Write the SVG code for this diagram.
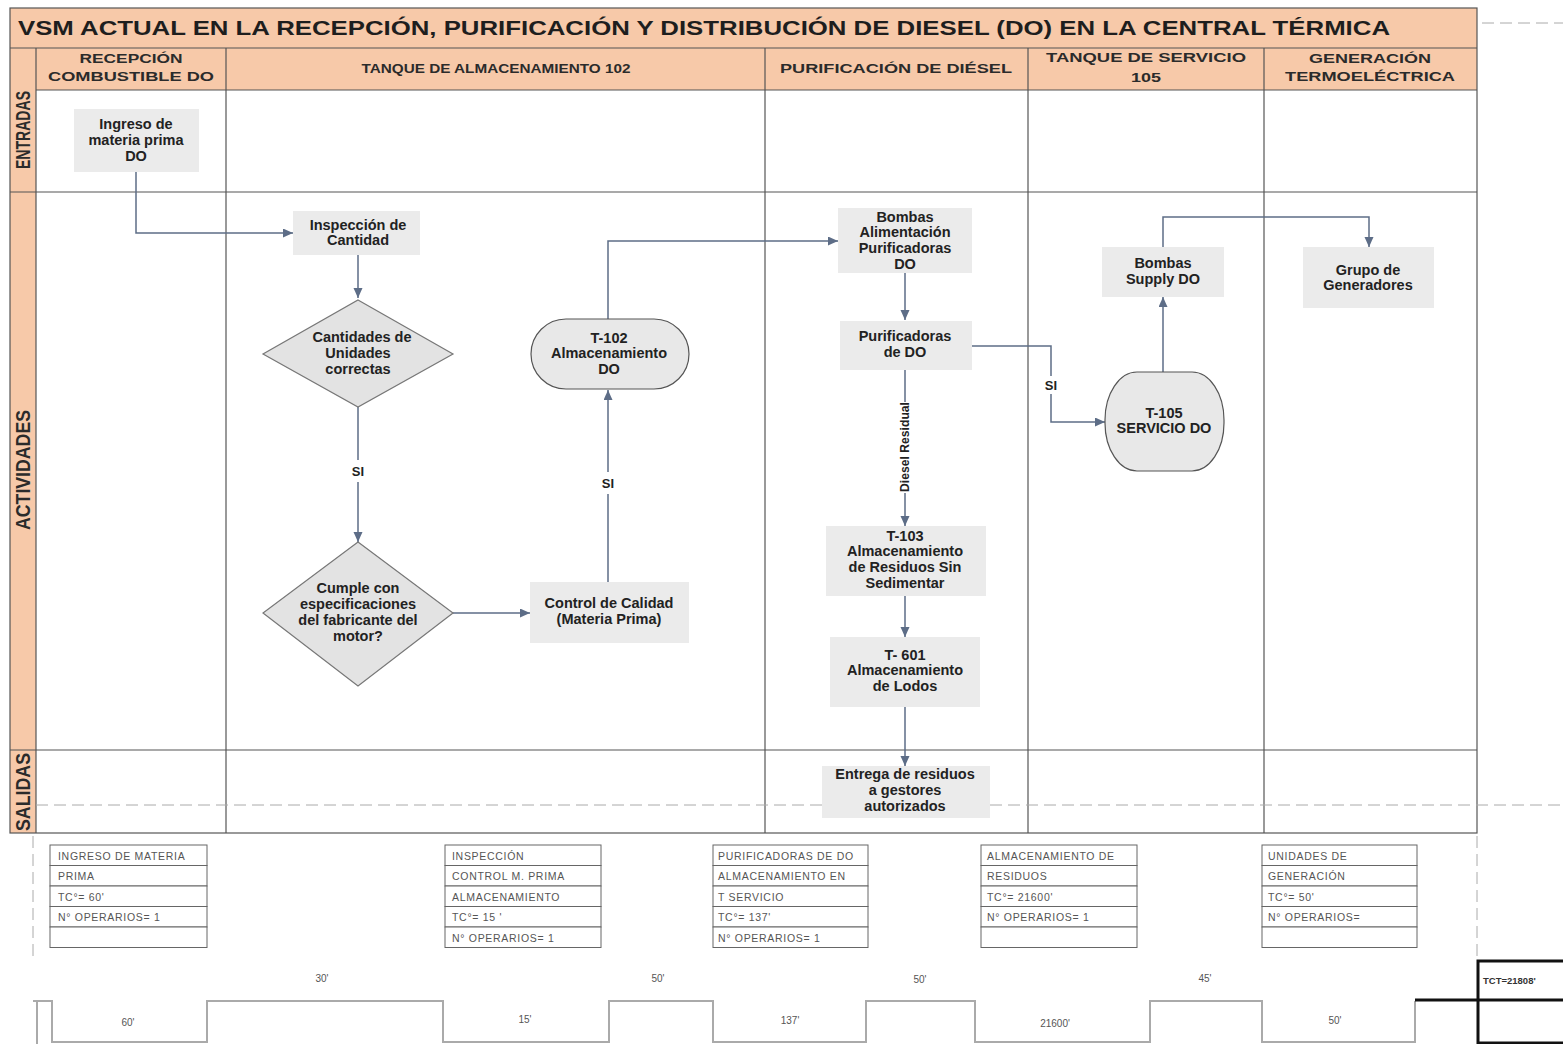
<svg xmlns="http://www.w3.org/2000/svg" width="1563" height="1044" viewBox="0 0 1563 1044">
  <style>
    .band { fill: #f7c9a9; }
    .grid { stroke: #555; stroke-width: 1.2; fill: none; }
    .hdr { font-family: "Liberation Sans", Arial, sans-serif; font-weight: bold; font-size: 13.5px; fill: #2b2b2b; text-anchor: middle; }
    .title { font-family: "Liberation Sans", Arial, sans-serif; font-weight: bold; font-size: 21px; fill: #1e1e1e; }
    .lane { font-family: "Liberation Sans", Arial, sans-serif; font-weight: bold; font-size: 20px; fill: #2b2b2b; text-anchor: middle; }
    .box { fill: #ebebeb; }
    .tank { fill: #e8e8e8; stroke: #555; stroke-width: 1.2; }
    .lbl { font-family: "Liberation Sans", Arial, sans-serif; font-weight: bold; font-size: 14.5px; fill: #222; text-anchor: middle; }
    .edge { stroke: #5d6d87; stroke-width: 1.5; fill: none; }
    .elbl { font-family: "Liberation Sans", Arial, sans-serif; font-weight: bold; font-size: 13px; fill: #222; text-anchor: middle; }
    .cell { fill: #fff; stroke: #666; stroke-width: 1; }
    .small { font-family: "Liberation Sans", Arial, sans-serif; font-size: 10.5px; letter-spacing: 0.7px; fill: #555; }
    .time { stroke: #aaa; stroke-width: 2; fill: none; }
    .tlbl { font-family: "Liberation Sans", Arial, sans-serif; font-size: 10px; fill: #555; text-anchor: middle; }
    .dash { stroke: #aaa; stroke-width: 1; stroke-dasharray: 12 6; fill: none; }
  </style>
  <defs>
    <marker id="arrow" markerUnits="userSpaceOnUse" markerWidth="11" markerHeight="10" refX="10" refY="4.5" orient="auto">
      <path d="M0,0 L10,4.5 L0,9 Z" fill="#5d6d87"/>
    </marker>
  </defs>

  <rect width="1563" height="1044" fill="#fff"/>

  <!-- swimlane frame -->
  <g id="frame">
    <rect class="band" x="10" y="8" width="1467" height="40"/>
    <rect class="band" x="36" y="48" width="1441" height="42"/>
    <rect class="band" x="10" y="48" width="26" height="785"/>
    <rect class="grid" x="10" y="8" width="1467" height="825"/>
    <line class="grid" x1="10" y1="48" x2="1477" y2="48"/>
    <line class="grid" x1="36" y1="90" x2="1477" y2="90"/>
    <line class="grid" x1="10" y1="192" x2="1477" y2="192"/>
    <line class="grid" x1="10" y1="750" x2="1477" y2="750"/>
    <line class="grid" x1="36" y1="48" x2="36" y2="833"/>
    <line class="grid" x1="226" y1="48" x2="226" y2="833"/>
    <line class="grid" x1="765" y1="48" x2="765" y2="833"/>
    <line class="grid" x1="1028" y1="48" x2="1028" y2="833"/>
    <line class="grid" x1="1264" y1="48" x2="1264" y2="833"/>
    <line class="dash" x1="36" y1="805" x2="1563" y2="805"/>
    <line class="dash" x1="33" y1="836" x2="33" y2="960" stroke-dasharray="6 6"/>
    <line class="dash" x1="1477" y1="836" x2="1477" y2="960" stroke-dasharray="6 6"/>
    <line class="dash" x1="1482" y1="23" x2="1563" y2="23" stroke="#ccc"/>

    <text class="title" x="18" y="35" textLength="1372" lengthAdjust="spacingAndGlyphs">VSM ACTUAL EN LA RECEPCIÓN, PURIFICACIÓN Y DISTRIBUCIÓN DE DIESEL (DO) EN LA CENTRAL TÉRMICA</text>

    <text class="hdr" x="131" y="63" textLength="103" lengthAdjust="spacingAndGlyphs">RECEPCIÓN</text>
    <text class="hdr" x="131" y="81" textLength="166" lengthAdjust="spacingAndGlyphs">COMBUSTIBLE DO</text>
    <text class="hdr" x="496" y="73" textLength="269" lengthAdjust="spacingAndGlyphs">TANQUE DE ALMACENAMIENTO 102</text>
    <text class="hdr" x="896" y="73" textLength="232" lengthAdjust="spacingAndGlyphs">PURIFICACIÓN DE DIÉSEL</text>
    <text class="hdr" x="1146" y="62" textLength="200" lengthAdjust="spacingAndGlyphs">TANQUE DE SERVICIO</text>
    <text class="hdr" x="1146" y="82" textLength="30" lengthAdjust="spacingAndGlyphs">105</text>
    <text class="hdr" x="1370" y="63" textLength="122" lengthAdjust="spacingAndGlyphs">GENERACIÓN</text>
    <text class="hdr" x="1370" y="81" textLength="170" lengthAdjust="spacingAndGlyphs">TERMOELÉCTRICA</text>

    <text class="lane" transform="translate(30,130) rotate(-90)" textLength="78" lengthAdjust="spacingAndGlyphs">ENTRADAS</text>
    <text class="lane" transform="translate(30,470) rotate(-90)" textLength="120" lengthAdjust="spacingAndGlyphs">ACTIVIDADES</text>
    <text class="lane" transform="translate(30,792) rotate(-90)" textLength="78" lengthAdjust="spacingAndGlyphs">SALIDAS</text>
  </g>

  <!-- flow connectors -->
  <g id="connectors">
    <path class="edge" d="M136,172 V233 H293" marker-end="url(#arrow)"/>
    <path class="edge" d="M358,255 V298" marker-end="url(#arrow)"/>
    <path class="edge" d="M358,407 V460 M358,482 V542" marker-end="url(#arrow)"/>
    <path class="edge" d="M453,613 H530" marker-end="url(#arrow)"/>
    <path class="edge" d="M608,582 V494 M608,472 V390" marker-end="url(#arrow)"/>
    <path class="edge" d="M608,319 V241 H838" marker-end="url(#arrow)"/>
    <path class="edge" d="M905,273 V320" marker-end="url(#arrow)"/>
    <path class="edge" d="M905,370 V402 M905,493 V526" marker-end="url(#arrow)"/>
    <path class="edge" d="M905,596 V637" marker-end="url(#arrow)"/>
    <path class="edge" d="M905,707 V766" marker-end="url(#arrow)"/>
    <path class="edge" d="M972,346 H1051 V376 M1051,394 V422 H1105" marker-end="url(#arrow)"/>
    <path class="edge" d="M1163,372 V297" marker-end="url(#arrow)"/>
    <path class="edge" d="M1163,247 V217 H1369 V247" marker-end="url(#arrow)"/>
    <text class="elbl" x="358" y="476">SI</text>
    <text class="elbl" x="608" y="488">SI</text>
    <text class="elbl" x="1051" y="390">SI</text>
    <text class="elbl" transform="translate(909,447) rotate(-90)" font-size="12.5" textLength="90" lengthAdjust="spacingAndGlyphs">Diesel Residual</text>
  </g>

  <!-- process nodes -->
  <g id="ingreso">
    <rect class="box" x="74" y="109" width="125" height="63"/>
    <text class="lbl" x="136" y="129">Ingreso de</text>
    <text class="lbl" x="136" y="145">materia prima</text>
    <text class="lbl" x="136" y="161">DO</text>
  </g>
  <g id="inspeccion">
    <rect class="box" x="293" y="211" width="127" height="44"/>
    <text class="lbl" x="358" y="230">Inspección de</text>
    <text class="lbl" x="358" y="245">Cantidad</text>
  </g>
  <g id="decision-cantidades">
    <polygon points="358,300 453,354 358,407 263,354" fill="#e3e3e3" stroke="#777" stroke-width="1.2"/>
    <text class="lbl" x="362" y="342">Cantidades de</text>
    <text class="lbl" x="358" y="358">Unidades</text>
    <text class="lbl" x="358" y="374">correctas</text>
  </g>
  <g id="decision-especificaciones">
    <polygon points="358,542 453,613 358,686 263,613" fill="#e3e3e3" stroke="#777" stroke-width="1.2"/>
    <text class="lbl" x="358" y="593">Cumple con</text>
    <text class="lbl" x="358" y="609">especificaciones</text>
    <text class="lbl" x="358" y="625">del fabricante del</text>
    <text class="lbl" x="358" y="641">motor?</text>
  </g>
  <g id="control-calidad">
    <rect class="box" x="530" y="582" width="159" height="61"/>
    <text class="lbl" x="609" y="608">Control de Calidad</text>
    <text class="lbl" x="609" y="624">(Materia Prima)</text>
  </g>
  <g id="t102">
    <rect class="tank" x="531" y="319" width="158" height="70" rx="35" ry="35"/>
    <text class="lbl" x="609" y="343">T-102</text>
    <text class="lbl" x="609" y="358">Almacenamiento</text>
    <text class="lbl" x="609" y="374">DO</text>
  </g>
  <g id="bombas-alimentacion">
    <rect class="box" x="838" y="208" width="134" height="65"/>
    <text class="lbl" x="905" y="222">Bombas</text>
    <text class="lbl" x="905" y="237">Alimentación</text>
    <text class="lbl" x="905" y="253">Purificadoras</text>
    <text class="lbl" x="905" y="269">DO</text>
  </g>
  <g id="purificadoras">
    <rect class="box" x="840" y="321" width="132" height="49"/>
    <text class="lbl" x="905" y="341">Purificadoras</text>
    <text class="lbl" x="905" y="357">de DO</text>
  </g>
  <g id="t103">
    <rect class="box" x="826" y="526" width="160" height="70"/>
    <text class="lbl" x="905" y="541">T-103</text>
    <text class="lbl" x="905" y="556">Almacenamiento</text>
    <text class="lbl" x="905" y="572">de Residuos  Sin</text>
    <text class="lbl" x="905" y="588">Sedimentar</text>
  </g>
  <g id="t601">
    <rect class="box" x="830" y="637" width="150" height="70"/>
    <text class="lbl" x="905" y="660">T- 601</text>
    <text class="lbl" x="905" y="675">Almacenamiento</text>
    <text class="lbl" x="905" y="691">de Lodos</text>
  </g>
  <g id="entrega">
    <rect class="box" x="822" y="766" width="168" height="52"/>
    <text class="lbl" x="905" y="779">Entrega de residuos</text>
    <text class="lbl" x="905" y="795">a gestores</text>
    <text class="lbl" x="905" y="811">autorizados</text>
  </g>
  <g id="t105">
    <rect class="tank" x="1105" y="372" width="119" height="99" rx="32" ry="48"/>
    <text class="lbl" x="1164" y="418">T-105</text>
    <text class="lbl" x="1164" y="433">SERVICIO DO</text>
  </g>
  <g id="bombas-supply">
    <rect class="box" x="1102" y="247" width="122" height="50"/>
    <text class="lbl" x="1163" y="268">Bombas</text>
    <text class="lbl" x="1163" y="284">Supply DO</text>
  </g>
  <g id="generadores">
    <rect class="box" x="1303" y="247" width="131" height="61"/>
    <text class="lbl" x="1368" y="275">Grupo de</text>
    <text class="lbl" x="1368" y="290">Generadores</text>
  </g>

  <!-- process data boxes -->
  <g id="data-ingreso">
    <rect class="cell" x="50" y="845" width="157" height="20.5"/>
    <rect class="cell" x="50" y="865.5" width="157" height="20.5"/>
    <rect class="cell" x="50" y="886" width="157" height="20.5"/>
    <rect class="cell" x="50" y="906.5" width="157" height="20.5"/>
    <rect class="cell" x="50" y="927" width="157" height="20.5"/>
    <text class="small" x="58" y="859.5">INGRESO DE MATERIA</text>
    <text class="small" x="58" y="880">PRIMA</text>
    <text class="small" x="58" y="900.5">TC°= 60'</text>
    <text class="small" x="58" y="921">N° OPERARIOS= 1</text>
  </g>
  <g id="data-inspeccion">
    <rect class="cell" x="445" y="845" width="156" height="20.5"/>
    <rect class="cell" x="445" y="865.5" width="156" height="20.5"/>
    <rect class="cell" x="445" y="886" width="156" height="20.5"/>
    <rect class="cell" x="445" y="906.5" width="156" height="20.5"/>
    <rect class="cell" x="445" y="927" width="156" height="20.5"/>
    <text class="small" x="452" y="859.5">INSPECCIÓN</text>
    <text class="small" x="452" y="880">CONTROL M. PRIMA</text>
    <text class="small" x="452" y="900.5">ALMACENAMIENTO</text>
    <text class="small" x="452" y="921">TC°= 15 '</text>
    <text class="small" x="452" y="941.5">N° OPERARIOS= 1</text>
  </g>
  <g id="data-purificadoras">
    <rect class="cell" x="713" y="845" width="155" height="20.5"/>
    <rect class="cell" x="713" y="865.5" width="155" height="20.5"/>
    <rect class="cell" x="713" y="886" width="155" height="20.5"/>
    <rect class="cell" x="713" y="906.5" width="155" height="20.5"/>
    <rect class="cell" x="713" y="927" width="155" height="20.5"/>
    <text class="small" x="718" y="859.5" letter-spacing="0.3">PURIFICADORAS DE DO</text>
    <text class="small" x="718" y="880" letter-spacing="0.3">ALMACENAMIENTO EN</text>
    <text class="small" x="718" y="900.5">T SERVICIO</text>
    <text class="small" x="718" y="921">TC°= 137'</text>
    <text class="small" x="718" y="941.5">N° OPERARIOS=  1</text>
  </g>
  <g id="data-residuos">
    <rect class="cell" x="981" y="845" width="156" height="20.5"/>
    <rect class="cell" x="981" y="865.5" width="156" height="20.5"/>
    <rect class="cell" x="981" y="886" width="156" height="20.5"/>
    <rect class="cell" x="981" y="906.5" width="156" height="20.5"/>
    <rect class="cell" x="981" y="927" width="156" height="20.5"/>
    <text class="small" x="987" y="859.5" letter-spacing="0.3">ALMACENAMIENTO DE</text>
    <text class="small" x="987" y="880">RESIDUOS</text>
    <text class="small" x="987" y="900.5">TC°= 21600'</text>
    <text class="small" x="987" y="921">N° OPERARIOS=  1</text>
  </g>
  <g id="data-generacion">
    <rect class="cell" x="1262" y="845" width="155" height="20.5"/>
    <rect class="cell" x="1262" y="865.5" width="155" height="20.5"/>
    <rect class="cell" x="1262" y="886" width="155" height="20.5"/>
    <rect class="cell" x="1262" y="906.5" width="155" height="20.5"/>
    <rect class="cell" x="1262" y="927" width="155" height="20.5"/>
    <text class="small" x="1268" y="859.5">UNIDADES DE</text>
    <text class="small" x="1268" y="880">GENERACIÓN</text>
    <text class="small" x="1268" y="900.5">TC°= 50'</text>
    <text class="small" x="1268" y="921">N° OPERARIOS=</text>
  </g>

  <!-- time line -->
  <g id="timeline">
    <line class="time" x1="37" y1="1001" x2="37" y2="1044" stroke="#ddd"/>
    <path class="time" d="M33,1001 H52 V1042 H207 V1001 H443 V1042 H609 V1001 H713 V1042 H866 V1001 H975 V1042 H1150 V1001 H1262 V1042 H1415 V1001"/>
    <line x1="1415" y1="1000" x2="1563" y2="1000" stroke="#111" stroke-width="3"/>
    <text class="tlbl" x="322" y="982">30'</text>
    <text class="tlbl" x="658" y="982">50'</text>
    <text class="tlbl" x="920" y="983">50'</text>
    <text class="tlbl" x="1205" y="982">45'</text>
    <text class="tlbl" x="128" y="1026">60'</text>
    <text class="tlbl" x="525" y="1023">15'</text>
    <text class="tlbl" x="790" y="1024">137'</text>
    <text class="tlbl" x="1055" y="1027">21600'</text>
    <text class="tlbl" x="1335" y="1024">50'</text>
  </g>
  <g id="tct">
    <path d="M1563,961 H1478 V1043 H1563" fill="none" stroke="#111" stroke-width="3"/>
    <text x="1483" y="984" font-family="Liberation Sans, Arial, sans-serif" font-size="9.5px" font-weight="bold" fill="#333">TCT=21808'</text>
  </g>
</svg>
